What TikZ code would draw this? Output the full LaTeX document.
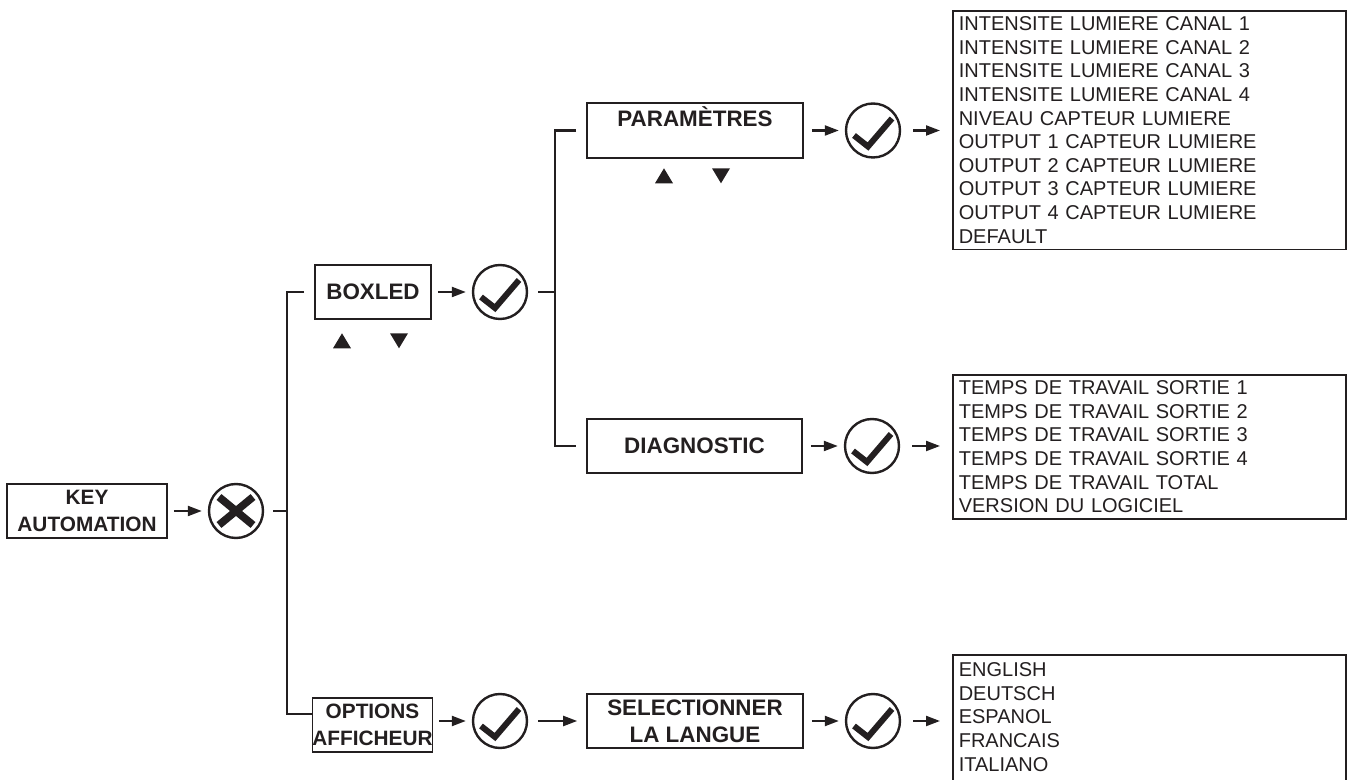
\documentclass[tikz,border=0pt]{standalone}
\usepackage{fontspec}
\setmainfont{Liberation Sans}
\usetikzlibrary{arrows.meta, positioning, calc}
\definecolor{inkgray}{HTML}{231F20}

\tikzset{
  menubox/.style={draw=inkgray, line width=0.8pt, text=inkgray, inner sep=0pt, align=center,
    font=\fontsize{11.2}{13.5}\selectfont\bfseries},
  smallbox/.style={menubox, font=\fontsize{10.4}{13.5}\selectfont\bfseries},
  listbox/.style={draw=inkgray, line width=0.8pt, text=inkgray, anchor=north west, align=left,
    inner xsep=3pt, inner ysep=3pt, text width=190.5pt, font=\fontsize{10}{11.8}\selectfont},
  okcircle/.style={circle, draw=inkgray, line width=1.2pt, minimum size=27pt, inner sep=0pt,
    path picture={\draw[inkgray, line width=3pt]
      ([shift={(-9.5pt,-2.5pt)}]path picture bounding box.center) -- ++(7pt,-5.5pt) -- ++(12pt,14pt);}},
  nocircle/.style={circle, draw=inkgray, line width=1.2pt, minimum size=27pt, inner sep=0pt,
    path picture={\draw[inkgray, line width=3.8pt]
      ([shift={(-8.5pt,7pt)}]path picture bounding box.center) -- ++(17pt,-14pt)
      ([shift={(-8.5pt,-7pt)}]path picture bounding box.center) -- ++(17pt,14pt);}},
  link/.style={inkgray, line width=1.1pt},
  arr/.style={inkgray, line width=1.1pt, -{Triangle[length=7pt,width=5pt]}, shorten <=3pt, shorten >=3pt},
  uptri/.pic={\fill[inkgray] (-4.5pt,-3.75pt) -- (4.5pt,-3.75pt) -- (0,3.75pt) -- cycle;},
  downtri/.pic={\fill[inkgray] (-4.5pt,3.75pt) -- (4.5pt,3.75pt) -- (0,-3.75pt) -- cycle;}
}

\begin{document}
\begin{tikzpicture}[x=0.5pt, y=-0.5pt]
  \useasboundingbox (0,0) rectangle (1357,780);

  % Start of the menu
  \node[smallbox, minimum width=80pt, minimum height=27pt] (keybox) at (87,511) {KEY\\AUTOMATION};
  \node[nocircle] (xmark) at (236,511) {};
  \draw[arr] (keybox) -- (xmark);

  % First level: BOXLED and OPTIONS AFFICHEUR
  \node[menubox, minimum width=58pt, minimum height=27pt] (boxled) at (373,292) {BOXLED};
  \node[okcircle] (okboxled) at (500,292) {};
  \node[smallbox, minimum width=58.5pt, minimum height=27pt] (options) at (372.5,725) {OPTIONS\\AFFICHEUR};
  \node[okcircle] (okoptions) at (500,721) {};
  \pic at ([shift={(-15.5pt,-10.5pt)}]boxled.south) {uptri};
  \pic at ([shift={(13pt,-10.5pt)}]boxled.south) {downtri};

  \coordinate (trunkA) at (287,511);
  \draw[link] ([xshift=4.5pt]xmark.east) -- (trunkA);
  \draw[link] ([xshift=-5pt]boxled.west) -| (trunkA) |- ([yshift=5.5pt]options.west);
  \draw[arr] (boxled) -- (okboxled);
  \draw[arr] (options.east |- okoptions) -- (okoptions.west);

  % Second level under BOXLED
  \node[menubox, minimum width=108pt, minimum height=27.5pt] (param) at (695,130.5) {PARAMÈTRES\\\mbox{}};
  \node[okcircle] (okparam) at (873,130.5) {};
  \node[menubox, minimum width=107.5pt, minimum height=27pt] (diag) at (694.5,446) {DIAGNOSTIC};
  \node[okcircle] (okdiag) at (872,446) {};
  \pic at ([shift={(-15.5pt,-8.5pt)}]param.south) {uptri};
  \pic at ([shift={(13pt,-8.5pt)}]param.south) {downtri};

  \coordinate (trunkB) at (555,292);
  \draw[link] ([xshift=5pt]okboxled.east) -- (trunkB);
  \draw[link] ([xshift=-5pt]param.west) -| (trunkB) |- ([xshift=-5pt]diag.west);
  \draw[arr, shorten <=4pt] (param) -- (okparam);
  \draw[arr, shorten <=4pt] (diag) -- (okdiag);

  % Language selection
  \node[menubox, minimum width=108pt, minimum height=27pt] (langue) at (695,721) {SELECTIONNER\\LA LANGUE};
  \node[okcircle] (oklangue) at (873,721) {};
  \draw[arr, shorten <=5pt, shorten >=4.5pt] (okoptions) -- (langue);
  \draw[arr, shorten <=4pt] (langue) -- (oklangue);

  % Lists of values
  \node[listbox] (listparam) at (952,10) {INTENSITE LUMIERE CANAL 1\\INTENSITE LUMIERE CANAL 2\\INTENSITE LUMIERE CANAL 3\\INTENSITE LUMIERE CANAL 4\\NIVEAU CAPTEUR LUMIERE\\OUTPUT 1 CAPTEUR LUMIERE\\OUTPUT 2 CAPTEUR LUMIERE\\OUTPUT 3 CAPTEUR LUMIERE\\OUTPUT 4 CAPTEUR LUMIERE\\DEFAULT};
  \node[listbox] (listdiag) at (952,374) {TEMPS DE TRAVAIL SORTIE 1\\TEMPS DE TRAVAIL SORTIE 2\\TEMPS DE TRAVAIL SORTIE 3\\TEMPS DE TRAVAIL SORTIE 4\\TEMPS DE TRAVAIL TOTAL\\VERSION DU LOGICIEL};
  \node[listbox, inner ysep=4pt] (listlangue) at (952,654) {ENGLISH\\DEUTSCH\\ESPANOL\\FRANCAIS\\ITALIANO\\[-3pt]\mbox{}};
  \draw[arr, shorten <=6pt, shorten >=6pt] (okparam.east) -- (okparam -| listparam.west);
  \draw[arr, shorten <=6pt, shorten >=6pt] (okdiag.east) -- (okdiag -| listdiag.west);
  \draw[arr, shorten <=6pt, shorten >=6pt] (oklangue.east) -- (oklangue -| listlangue.west);
\end{tikzpicture}
\end{document}
